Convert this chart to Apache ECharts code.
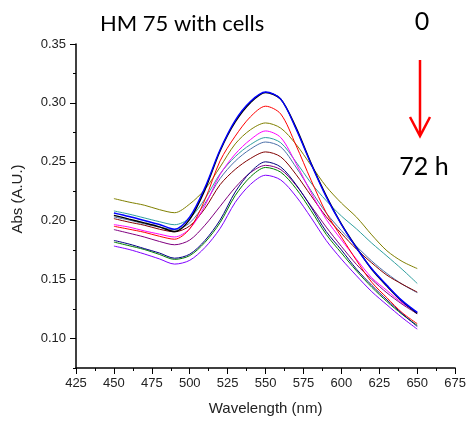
<!DOCTYPE html>
<html>
<head>
<meta charset="utf-8">
<script src="https://cdn.jsdelivr.net/npm/echarts@6/dist/echarts.min.js"></script>
<style>
  html, body { margin: 0; padding: 0; background: #fff; }
  #chart { width: 469px; height: 421px; }
</style>
</head>
<body>
<div id="chart"></div>
<script>
// Absorbance spectra, one trace per time point (0 h → 72 h)
const wavelengths = [450, 460, 470, 480, 490, 500, 510, 520, 530, 540, 550, 560, 570, 580, 590, 600, 610, 620, 630, 640, 650];

const absBlack   = [0.2046, 0.2014, 0.1982, 0.1948, 0.1908, 0.2012, 0.2262, 0.2592, 0.2838, 0.3002, 0.3088, 0.3032, 0.2792, 0.2488, 0.2212, 0.1972, 0.1772, 0.1588, 0.1446, 0.1316, 0.1214];
const absBlue    = [0.2066, 0.2036, 0.2002, 0.1968, 0.1928, 0.2032, 0.2282, 0.2602, 0.2852, 0.3012, 0.3092, 0.3032, 0.2782, 0.2482, 0.2202, 0.1968, 0.1768, 0.1592, 0.1452, 0.1322, 0.1222];
const absRed     = [0.1953, 0.1928, 0.1902, 0.1868, 0.1843, 0.1932, 0.2178, 0.2508, 0.2718, 0.2882, 0.2972, 0.2906, 0.2642, 0.2344, 0.2068, 0.1862, 0.1662, 0.1478, 0.1346, 0.1220, 0.1126];
const absOlive   = [0.2188, 0.2158, 0.2132, 0.2094, 0.2068, 0.2142, 0.2266, 0.2456, 0.2652, 0.2772, 0.2830, 0.2786, 0.2650, 0.2470, 0.2290, 0.2150, 0.2030, 0.1880, 0.1745, 0.1655, 0.1594];
const absMagenta = [0.1967, 0.1946, 0.1914, 0.1886, 0.1862, 0.1932, 0.2128, 0.2392, 0.2566, 0.2688, 0.2762, 0.2706, 0.2488, 0.2238, 0.2012, 0.1838, 0.1672, 0.1516, 0.1408, 0.1302, 0.1225];
const absTeal    = [0.2083, 0.2056, 0.2024, 0.1992, 0.1966, 0.2022, 0.2186, 0.2398, 0.2544, 0.2646, 0.2706, 0.2662, 0.2500, 0.2320, 0.2170, 0.2040, 0.1930, 0.1810, 0.1700, 0.1588, 0.1468];
const absSteel   = [0.2032, 0.2006, 0.1974, 0.1946, 0.1924, 0.1982, 0.2146, 0.2358, 0.2506, 0.2608, 0.2668, 0.2626, 0.2456, 0.2254, 0.2066, 0.1916, 0.1782, 0.1658, 0.1552, 0.1462, 0.1390];
const absWine    = [0.2018, 0.1988, 0.1962, 0.1928, 0.1906, 0.1956, 0.2104, 0.2306, 0.2436, 0.2528, 0.2584, 0.2542, 0.2394, 0.2212, 0.2034, 0.1892, 0.1758, 0.1642, 0.1538, 0.1462, 0.1394];
const absPurple  = [0.1925, 0.1894, 0.1862, 0.1824, 0.1796, 0.1836, 0.1962, 0.2122, 0.2282, 0.2408, 0.2470, 0.2434, 0.2302, 0.2124, 0.1946, 0.1782, 0.1628, 0.1502, 0.1388, 0.1292, 0.1210];
const absNavy    = [0.1833, 0.1802, 0.1764, 0.1726, 0.1682, 0.1716, 0.1832, 0.2006, 0.2244, 0.2412, 0.2500, 0.2456, 0.2308, 0.2116, 0.1908, 0.1752, 0.1588, 0.1452, 0.1328, 0.1212, 0.1102];
const absGreen   = [0.1819, 0.1788, 0.1756, 0.1714, 0.1672, 0.1704, 0.1816, 0.1984, 0.2214, 0.2372, 0.2452, 0.2412, 0.2274, 0.2086, 0.1884, 0.1726, 0.1574, 0.1436, 0.1314, 0.1206, 0.1112];
const absViolet  = [0.1785, 0.1756, 0.1718, 0.1676, 0.1632, 0.1664, 0.1772, 0.1934, 0.2156, 0.2308, 0.2386, 0.2346, 0.2208, 0.2026, 0.1832, 0.1674, 0.1532, 0.1398, 0.1286, 0.1178, 0.1080];

const xTicks = [425, 450, 475, 500, 525, 550, 575, 600, 625, 650, 675];
const yTicks = [0.10, 0.15, 0.20, 0.25, 0.30, 0.35];

const traces = [
  { name: 'olive',   color: '#808000', values: absOlive },
  { name: 'teal',    color: '#2f9f9f', values: absTeal },
  { name: 'steel',   color: '#4b6fa8', values: absSteel },
  { name: 'wine',    color: '#800000', values: absWine },
  { name: 'magenta', color: '#ff00ff', values: absMagenta },
  { name: 'purple',  color: '#800080', values: absPurple },
  { name: 'red',     color: '#ff0000', values: absRed },
  { name: 'violet',  color: '#8000ff', values: absViolet },
  { name: 'green',   color: '#008000', values: absGreen },
  { name: 'navy',    color: '#000080', values: absNavy },
  { name: 'black',   color: '#000000', values: absBlack },
  { name: 'blue',    color: '#0000ff', values: absBlue }
];

const chart = echarts.init(document.getElementById('chart'), null, { renderer: 'canvas' });

const axisFont = { fontFamily: 'Liberation Sans, Arial, sans-serif', fontSize: 13, color: '#222' };

chart.setOption({
  animation: false,
  backgroundColor: '#fff',
  grid: { left: 76, right: 13, top: 44, bottom: 53, containLabel: false },
  xAxis: {
    type: 'value',
    min: 425, max: 675, interval: 25,
    name: 'Wavelength (nm)',
    nameLocation: 'middle',
    nameGap: 33,
    nameTextStyle: { fontFamily: 'Liberation Sans, Arial, sans-serif', fontSize: 15, color: '#222' },
    axisLine: { show: true, onZero: false, lineStyle: { color: '#000', width: 1.5 } },
    axisTick: { show: true, length: 6, lineStyle: { color: '#000', width: 1 }, customValues: xTicks },
    minorTick: { show: true, splitNumber: 2, length: 3, lineStyle: { color: '#000', width: 1 } },
    axisLabel: Object.assign({ margin: 9, customValues: xTicks, formatter: v => String(v) }, axisFont),
    splitLine: { show: false }
  },
  yAxis: [
    {
      type: 'value',
      min: 0.075, max: 0.35, interval: 0.025,
      axisLine: { show: true, onZero: false, lineStyle: { color: '#000', width: 1.5 } },
      axisTick: { show: true, length: 6, lineStyle: { color: '#000', width: 1 }, customValues: yTicks },
      axisLabel: Object.assign({ margin: 10, customValues: yTicks, formatter: v => v.toFixed(2) }, axisFont),
      splitLine: { show: false }
    },
    {
      // short ticks every 0.025
      type: 'value',
      position: 'left',
      min: 0.075, max: 0.35, interval: 0.025,
      axisLine: { show: false },
      axisTick: { show: true, length: 3, lineStyle: { color: '#000', width: 1 } },
      axisLabel: { show: false },
      splitLine: { show: false }
    }
  ],
  series: traces.map(t => ({
    name: t.name,
    type: 'line',
    xAxisIndex: 0,
    yAxisIndex: 0,
    showSymbol: false,
    smooth: 0.3,
    lineStyle: { color: t.color, width: (t.name === 'blue' || t.name === 'black') ? 1.4 : 1 },
    itemStyle: { color: t.color },
    data: wavelengths.map((w, i) => [w, t.values[i]])
  })),
  graphic: [
    {
      type: 'text', left: 100, top: 13,
      style: { text: 'HM 75 with cells', font: '22px Lato, "Open Sans", sans-serif', fill: '#000' }
    },
    {
      type: 'text', x: 422, y: 22,
      style: { text: '0', font: '25px Lato, "Open Sans", sans-serif', fill: '#000', align: 'center', verticalAlign: 'middle' }
    },
    {
      type: 'text', x: 424, y: 167,
      style: { text: '72 h', font: '25px Lato, "Open Sans", sans-serif', fill: '#000', align: 'center', verticalAlign: 'middle' }
    },
    {
      type: 'line',
      shape: { x1: 420, y1: 60, x2: 420, y2: 135 },
      style: { stroke: '#ff0000', lineWidth: 2.5 }
    },
    {
      type: 'polyline',
      shape: { points: [[410, 117], [420, 136], [430, 117]] },
      style: { stroke: '#ff0000', lineWidth: 2.5, fill: null }
    },
    {
      type: 'text', x: 18, y: 199, rotation: Math.PI / 2,
      style: { text: 'Abs (A.U.)', font: '15px "Liberation Sans", Arial, sans-serif', fill: '#222', align: 'center', verticalAlign: 'middle' }
    }
  ]
});
</script>
</body>
</html>
